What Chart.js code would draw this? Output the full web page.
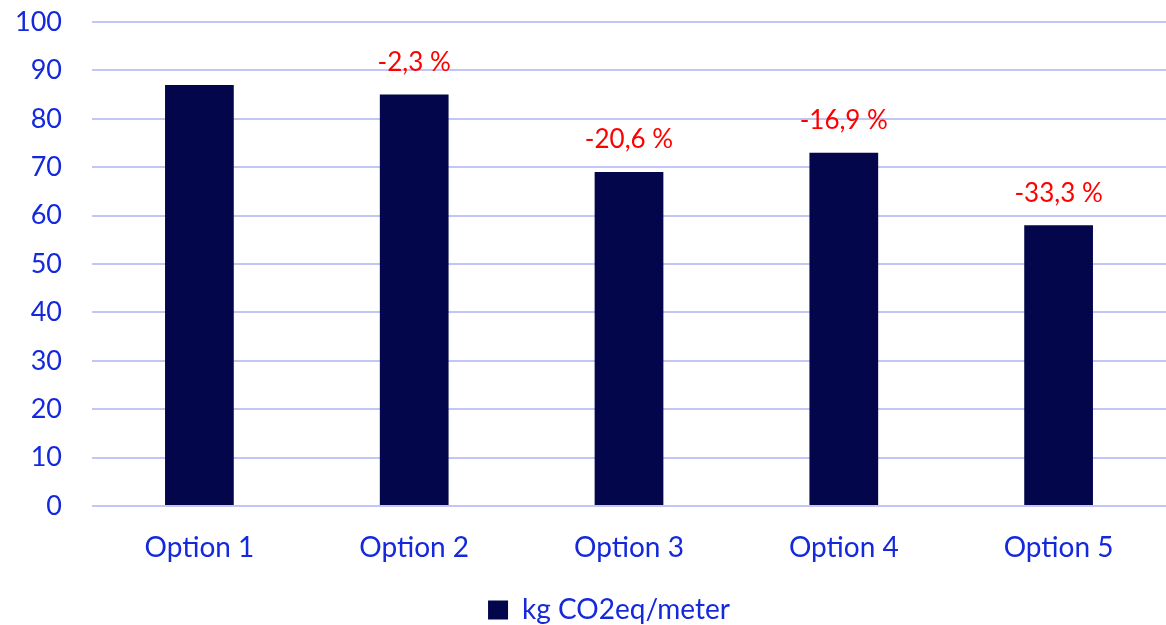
<!DOCTYPE html>
<html>
<head>
<meta charset="utf-8">
<script src="https://cdn.jsdelivr.net/npm/chart.js@4"></script>
<style>
  html, body { margin: 0; padding: 0; background: #ffffff; }
  #wrap { width: 1166px; height: 625px; }
</style>
</head>
<body>
<div id="wrap"><canvas id="c" width="1166" height="625"></canvas></div>
<script>
// Categories, series values and change labels
const categories = ['Option 1', 'Option 2', 'Option 3', 'Option 4', 'Option 5'];
const emissions = [87, 85, 69, 73, 58];
const changeLabels = ['', '-2,3 %', '-20,6 %', '-16,9 %', '-33,3 %'];
const seriesName = 'kg CO2eq/meter';
const yTicks = [0, 10, 20, 30, 40, 50, 60, 70, 80, 90, 100];

const FONT = 'Lato, "Open Sans", sans-serif';
const BLUE = '#1428DC';
const NAVY = '#03064A';
const GRID = '#C2C6F6';

// Draws the percentage change above each bar
const changeLabelPlugin = {
  id: 'changeLabels',
  afterDatasetsDraw(chart) {
    const ctx = chart.ctx;
    const meta = chart.getDatasetMeta(0);
    ctx.save();
    ctx.font = '26px ' + FONT;
    ctx.fillStyle = '#FF0000';
    ctx.textAlign = 'center';
    ctx.textBaseline = 'middle';
    meta.data.forEach((bar, i) => {
      const txt = changeLabels[i];
      if (txt) ctx.fillText(txt, bar.x, bar.y - 32);
    });
    ctx.restore();
  }
};

// Nudges the legend a little right so it sits under the plot area
const legendShiftPlugin = {
  id: 'legendShift',
  afterLayout(chart) {
    const lg = chart.legend;
    if (!lg) return;
    const dx = 26;
    lg.left += dx;
    lg.right += dx;
    (lg.legendHitBoxes || []).forEach(b => { b.left += dx; });
  }
};

new Chart(document.getElementById('c'), {
  type: 'bar',
  data: {
    labels: categories,
    datasets: [{
      label: seriesName,
      data: emissions,
      backgroundColor: NAVY,
      borderWidth: 0,
      barPercentage: 0.32,
      categoryPercentage: 1.0
    }]
  },
  options: {
    responsive: false,
    animation: false,
    layout: { padding: { top: 0, right: 0, left: 0, bottom: -9 } },
    plugins: {
      tooltip: { enabled: false },
      legend: {
        position: 'bottom',
        labels: {
          color: BLUE,
          font: { family: FONT, size: 28 },
          boxWidth: 20,
          boxHeight: 19,
          padding: 4
        }
      }
    },
    scales: {
      x: {
        afterFit(scale) { scale.height = 86; },
        grid: { display: false, drawTicks: false },
        border: { display: false },
        ticks: { color: BLUE, font: { family: FONT, size: 28 }, padding: 25 }
      },
      y: {
        min: 0,
        max: 100,
        afterBuildTicks(scale) { scale.ticks = yTicks.map(v => ({ value: v })); },
        afterFit(scale) { scale.width = 92; scale.paddingTop = 22; },
        grid: { color: GRID, lineWidth: 2, drawTicks: false },
        border: { display: false },
        ticks: { color: BLUE, font: { family: FONT, size: 27 }, padding: 30 }
      }
    }
  },
  plugins: [changeLabelPlugin, legendShiftPlugin]
});
</script>
</body>
</html>
